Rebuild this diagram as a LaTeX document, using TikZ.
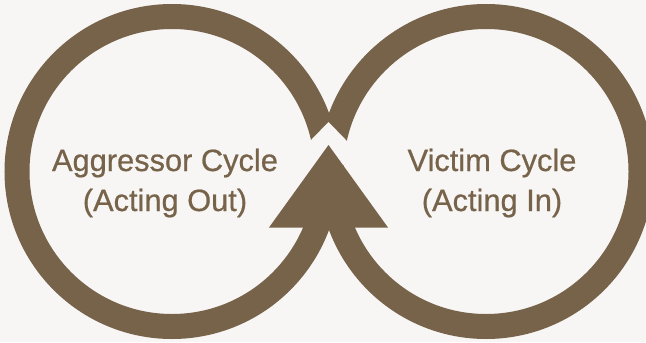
\documentclass[tikz,border=0pt]{standalone}
\usepackage{fontspec}
\setmainfont{Liberation Sans}
\newfontface\labelface[FakeBold=0.6]{Liberation Sans}
\definecolor{loopbrown}{HTML}{76634A}
\definecolor{paper}{HTML}{F7F6F4}
\begin{document}
\begin{tikzpicture}[x=1bp,y=1bp,
  cycleloop/.style={draw=loopbrown, line width=25bp},
  cyclelabel/.style={text=loopbrown, anchor=base, inner sep=0pt,
    font=\labelface\fontsize{30.8bp}{36bp}\selectfont}]
  % canvas
  \useasboundingbox (0,0) rectangle (646,342);
  \fill[paper] (0,0) rectangle (646,342);

  % the two cycles
  \coordinate (lc) at (172,170.5);
  \coordinate (rc) at (486,170.5);
  \draw[cycleloop] (lc) circle[radius=155];
  \draw[cycleloop] (rc) circle[radius=155];

  % gap where the loops meet, opened above the arrowhead
  \coordinate (g1) at (328.5,220);
  \coordinate (g2) at (312,203);
  \coordinate (g3) at (287,177);
  \coordinate (g4) at (370,177);
  \coordinate (g5) at (345,203);
  \fill[paper] (g1) -- (g2) -- (g3) -- (g4) -- (g5) -- cycle;

  % arrowhead pointing upward at the crossing
  \coordinate (tipA) at (328.5,197);
  \coordinate (tipL) at (269,114.5);
  \coordinate (tipR) at (388,114.5);
  \fill[loopbrown] (tipA) -- (tipL) -- (tipR) -- cycle;

  % labels
  \node[cyclelabel] (agg1) at (165,171) {Aggressor Cycle};
  \node[cyclelabel] (agg2) at (165,131) {(Acting Out)};
  \node[cyclelabel] (vic1) at (492,171) {Victim Cycle};
  \node[cyclelabel] (vic2) at (492,131) {(Acting In)};
\end{tikzpicture}
\end{document}
